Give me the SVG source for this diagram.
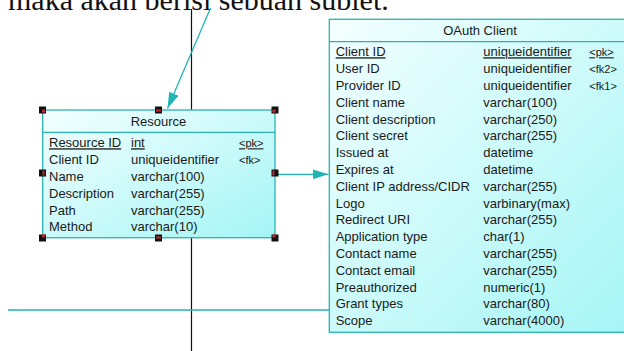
<svg xmlns="http://www.w3.org/2000/svg" width="624" height="351" viewBox="0 0 624 351">
<defs>
<linearGradient id="fillg" x1="0" y1="0" x2="1" y2="1">
<stop offset="0" stop-color="#f4ffff"/>
<stop offset="1" stop-color="#a4f5f5"/>
</linearGradient>
<marker id="arr" viewBox="0 0 16 10" refX="16" refY="5" markerWidth="16" markerHeight="10" markerUnits="userSpaceOnUse" orient="auto">
<path d="M0,0 L16,5 L0,10 Z" fill="#22b4b4"/>
</marker>
<style>
.box{fill:url(#fillg);stroke:#2ab3b3;stroke-width:1.3}
.sep{stroke:#2ab3b3;stroke-width:1.2}
.t{font-family:"Liberation Sans",Arial,sans-serif;font-size:13px;fill:#1a1a1a}
.k{font-family:"Liberation Sans",Arial,sans-serif;font-size:11px;fill:#1a1a1a}
.ttl{font-family:"Liberation Sans",Arial,sans-serif;font-size:13px;fill:#1a1a1a;text-anchor:middle}
.u{text-decoration:underline}
.conn{stroke:#22b4b4;stroke-width:1.3;fill:none}
.h{fill:#111}
.hr{fill:#c0282e}
</style>
</defs>
<rect x="0" y="0" width="624" height="351" fill="#ffffff"/>
<text x="8" y="10" font-family="'Liberation Serif','Times New Roman',serif" font-size="30" fill="#111">maka akan berisi sebuah sublet.</text>
<line x1="191.5" y1="9" x2="191.5" y2="351" stroke="#111" stroke-width="1.2"/>
<g id="connectors">
<line class="conn" x1="8" y1="310" x2="329.5" y2="310" stroke="#45c2c2"/>
<line class="conn" x1="210.5" y1="8" x2="167.5" y2="108.5" marker-end="url(#arr)"/>
<line class="conn" x1="276.5" y1="174.3" x2="328.5" y2="174.3" marker-end="url(#arr)"/>
</g>
<g id="resource">
<rect class="box" x="42.7" y="110" width="232.3" height="127.7"/>
<line class="sep" x1="42.7" y1="132.3" x2="275" y2="132.3"/>
<text class="ttl" x="158.5" y="125.8">Resource</text>
<text class="t u" x="49" y="147.3">Resource ID</text><text class="t u" x="131" y="147.3">int</text><text class="k u" x="239" y="147.3">&lt;pk&gt;</text>
<text class="t" x="49" y="164.1">Client ID</text><text class="t" x="131" y="164.1">uniqueidentifier</text><text class="k" x="239" y="164.1">&lt;fk&gt;</text>
<text class="t" x="49" y="180.9">Name</text><text class="t" x="131" y="180.9">varchar(100)</text>
<text class="t" x="49" y="197.7">Description</text><text class="t" x="131" y="197.7">varchar(255)</text>
<text class="t" x="49" y="214.5">Path</text><text class="t" x="131" y="214.5">varchar(255)</text>
<text class="t" x="49" y="231.3">Method</text><text class="t" x="131" y="231.3">varchar(10)</text>
<g id="handles">
<rect class="h" x="39" y="106.5" width="7" height="7"/><rect class="hr" x="42" y="109.5" width="3" height="3"/>
<rect class="h" x="155" y="106.5" width="7" height="7"/><rect class="hr" x="156" y="109.5" width="5" height="2"/>
<rect class="h" x="271.5" y="106.5" width="7" height="7"/><rect class="hr" x="272.5" y="109.5" width="3" height="3"/>
<rect class="h" x="39" y="169.5" width="7" height="7"/><rect class="hr" x="42.5" y="170.5" width="2" height="5"/>
<rect class="h" x="271.5" y="169.5" width="7" height="7"/><rect class="hr" x="272.5" y="170.5" width="2" height="5"/>
<rect class="h" x="39" y="234.5" width="7" height="7"/><rect class="hr" x="42" y="234.5" width="3" height="3"/>
<rect class="h" x="155" y="234.5" width="7" height="7"/><rect class="hr" x="156" y="236.5" width="5" height="2"/>
<rect class="h" x="271.5" y="234.5" width="7" height="7"/><rect class="hr" x="272.5" y="234.5" width="3" height="3"/>
</g>
</g>
<g id="oauth-client">
<rect class="box" x="329.3" y="19.3" width="310" height="313"/>
<line class="sep" x1="329.3" y1="41.7" x2="640" y2="41.7"/>
<text class="ttl" x="480" y="34.6">OAuth Client</text>
<text class="t u" x="335.7" y="56.3">Client ID</text><text class="t u" x="483.3" y="56.3">uniqueidentifier</text><text class="k u" x="589.3" y="56.3">&lt;pk&gt;</text>
<text class="t" x="335.7" y="73.1">User ID</text><text class="t" x="483.3" y="73.1">uniqueidentifier</text><text class="k" x="589.3" y="73.1">&lt;fk2&gt;</text>
<text class="t" x="335.7" y="89.9">Provider ID</text><text class="t" x="483.3" y="89.9">uniqueidentifier</text><text class="k" x="589.3" y="89.9">&lt;fk1&gt;</text>
<text class="t" x="335.7" y="106.7">Client name</text><text class="t" x="483.3" y="106.7">varchar(100)</text>
<text class="t" x="335.7" y="123.5">Client description</text><text class="t" x="483.3" y="123.5">varchar(250)</text>
<text class="t" x="335.7" y="140.3">Client secret</text><text class="t" x="483.3" y="140.3">varchar(255)</text>
<text class="t" x="335.7" y="157.1">Issued at</text><text class="t" x="483.3" y="157.1">datetime</text>
<text class="t" x="335.7" y="173.9">Expires at</text><text class="t" x="483.3" y="173.9">datetime</text>
<text class="t" x="335.7" y="190.7">Client IP address/CIDR</text><text class="t" x="483.3" y="190.7">varchar(255)</text>
<text class="t" x="335.7" y="207.5">Logo</text><text class="t" x="483.3" y="207.5">varbinary(max)</text>
<text class="t" x="335.7" y="224.3">Redirect URI</text><text class="t" x="483.3" y="224.3">varchar(255)</text>
<text class="t" x="335.7" y="241.1">Application type</text><text class="t" x="483.3" y="241.1">char(1)</text>
<text class="t" x="335.7" y="257.9">Contact name</text><text class="t" x="483.3" y="257.9">varchar(255)</text>
<text class="t" x="335.7" y="274.7">Contact email</text><text class="t" x="483.3" y="274.7">varchar(255)</text>
<text class="t" x="335.7" y="291.5">Preauthorized</text><text class="t" x="483.3" y="291.5">numeric(1)</text>
<text class="t" x="335.7" y="308.3">Grant types</text><text class="t" x="483.3" y="308.3">varchar(80)</text>
<text class="t" x="335.7" y="325.1">Scope</text><text class="t" x="483.3" y="325.1">varchar(4000)</text>
</g>
</svg>
